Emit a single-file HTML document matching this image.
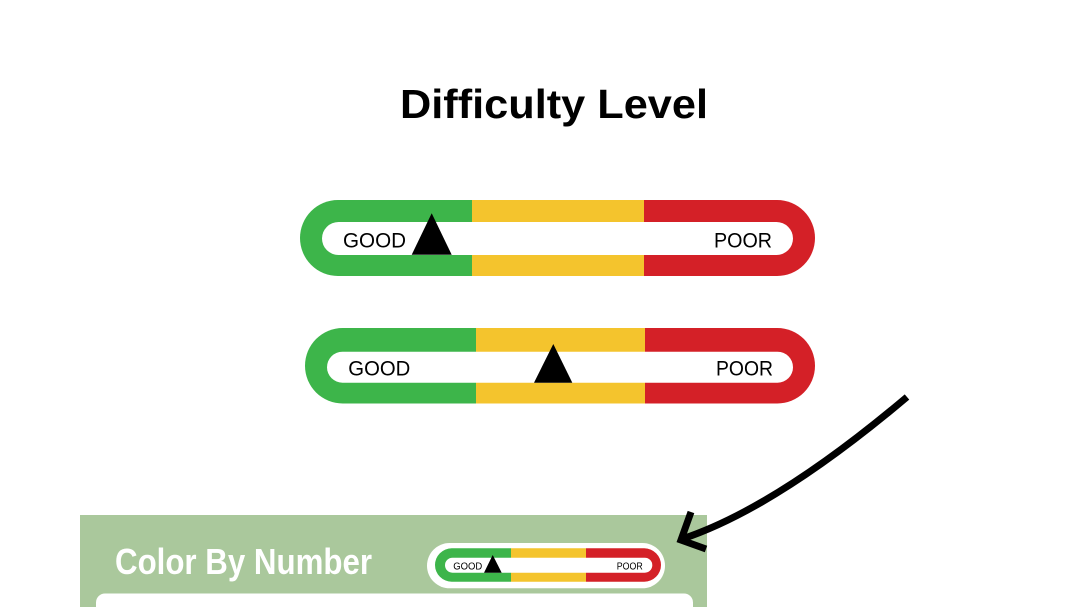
<!DOCTYPE html>
<html>
<head>
<meta charset="utf-8">
<style>
  html,body{margin:0;padding:0;background:#fff;}
  body{width:1080px;height:607px;overflow:hidden;}
  svg{display:block;}
  text{font-family:"Liberation Sans",sans-serif;}
</style>
</head>
<body>
<svg width="1080" height="607" viewBox="0 0 1080 607" xmlns="http://www.w3.org/2000/svg">
  <defs>
    <clipPath id="c1"><rect x="300" y="200" width="515" height="76" rx="38" ry="38"/></clipPath>
    <clipPath id="c2"><rect x="305" y="328" width="510" height="75.5" rx="37.75" ry="37.75"/></clipPath>
    <clipPath id="c3"><rect x="435" y="548.3" width="226" height="33.4" rx="16.7" ry="16.7"/></clipPath>
  </defs>
  <rect width="1080" height="607" fill="#ffffff"/>

  <!-- Title -->
  <text x="400" y="118" font-size="41" font-weight="bold" fill="#000" textLength="308" lengthAdjust="spacingAndGlyphs">Difficulty Level</text>

  <!-- Gauge 1 -->
  <g clip-path="url(#c1)">
    <rect x="300" y="200" width="172" height="76" fill="#3db54a"/>
    <rect x="472" y="200" width="172" height="76" fill="#f4c42d"/>
    <rect x="644" y="200" width="171" height="76" fill="#d42027"/>
  </g>
  <rect x="322" y="222" width="471" height="33" rx="16.5" ry="16.5" fill="#ffffff"/>
  <text x="343" y="247.5" font-size="21" fill="#000" textLength="63" lengthAdjust="spacingAndGlyphs">GOOD</text>
  <text x="714" y="247.3" font-size="21" fill="#000" textLength="58" lengthAdjust="spacingAndGlyphs">POOR</text>
  <polygon points="431.7,213.3 411.7,254.7 451.7,254.7" fill="#000"/>

  <!-- Gauge 2 -->
  <g clip-path="url(#c2)">
    <rect x="305" y="328" width="171" height="76" fill="#3db54a"/>
    <rect x="476" y="328" width="169" height="76" fill="#f4c42d"/>
    <rect x="645" y="328" width="170" height="76" fill="#d42027"/>
  </g>
  <rect x="327" y="351.7" width="466" height="31" rx="15.5" ry="15.5" fill="#ffffff"/>
  <text x="348.3" y="375.3" font-size="21" fill="#000" textLength="62" lengthAdjust="spacingAndGlyphs">GOOD</text>
  <text x="716" y="375.3" font-size="21" fill="#000" textLength="57" lengthAdjust="spacingAndGlyphs">POOR</text>
  <polygon points="553.3,344 534,382.7 572.3,382.7" fill="#000"/>

  <!-- Green panel -->
  <rect x="80" y="515" width="627" height="92" fill="#aac89c"/>
  <rect x="96" y="593.5" width="597" height="30" rx="9" ry="9" fill="#ffffff"/>
  <text x="115" y="574" font-size="36" font-weight="bold" fill="#ffffff" textLength="257" lengthAdjust="spacingAndGlyphs">Color By Number</text>

  <!-- Mini gauge -->
  <rect x="427" y="543" width="238" height="45.3" rx="22.6" ry="22.6" fill="#ffffff"/>
  <g clip-path="url(#c3)">
    <rect x="435" y="548" width="76" height="34" fill="#3db54a"/>
    <rect x="511" y="548" width="75" height="34" fill="#f4c42d"/>
    <rect x="586" y="548" width="75" height="34" fill="#d42027"/>
  </g>
  <rect x="445" y="557.7" width="207.3" height="15" rx="7.5" ry="7.5" fill="#ffffff"/>
  <text x="453.3" y="569.5" font-size="10.5" fill="#000" textLength="29" lengthAdjust="spacingAndGlyphs">GOOD</text>
  <text x="616.7" y="569.5" font-size="10.5" fill="#000" textLength="26" lengthAdjust="spacingAndGlyphs">POOR</text>
  <polygon points="492.7,555 484,572.7 501.7,572.7" fill="#000"/>

  <!-- Arrow -->
  <path d="M907,397 Q775.5,508 682,539" fill="none" stroke="#000" stroke-width="7"/>
  <path d="M691,512 L681,540 L706,549" fill="none" stroke="#000" stroke-width="7" stroke-linejoin="miter"/>
</svg>
</body>
</html>
